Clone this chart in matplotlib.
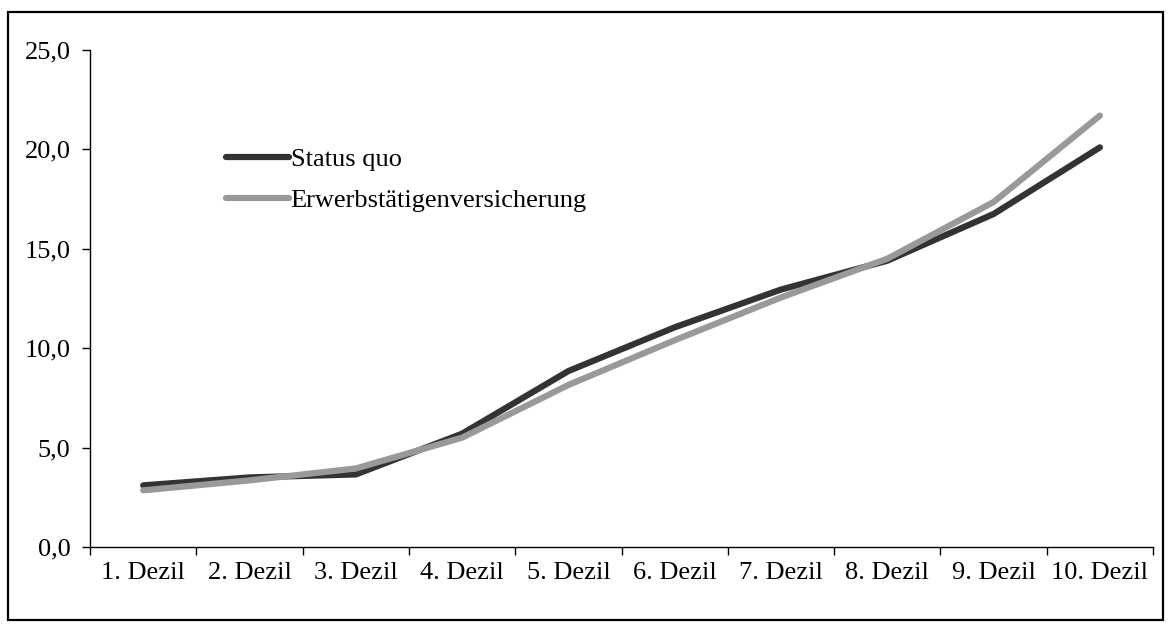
import numpy as np
import matplotlib
matplotlib.use('Agg')
import matplotlib.pyplot as plt
from matplotlib.patches import Rectangle

# Daten
dezile = ['1. Dezil', '2. Dezil', '3. Dezil', '4. Dezil', '5. Dezil',
          '6. Dezil', '7. Dezil', '8. Dezil', '9. Dezil', '10. Dezil']
status_quo = [3.1, 3.5, 3.65, 5.7, 8.85, 11.05, 12.95, 14.4, 16.75, 20.1]
erwerb = [2.85, 3.35, 3.95, 5.5, 8.15, 10.4, 12.55, 14.5, 17.35, 21.7]
y_ticks = [0, 5, 10, 15, 20, 25]

plt.rcParams['font.family'] = ['Liberation Serif', 'DejaVu Serif']
fs = 19

fig = plt.figure(figsize=(11.68, 6.24), dpi=100)
ax = fig.add_axes([0.0771, 0.1234, 0.9101, 0.7965])

x = np.arange(len(dezile)) + 0.5
ax.plot(x, status_quo, color='#333333', lw=4.5, solid_capstyle='round',
        solid_joinstyle='round', label='Status quo')
ax.plot(x, erwerb, color='#999999', lw=4.5, solid_capstyle='round',
        solid_joinstyle='round', label='Erwerbstätigenversicherung')

ax.set_xlim(0, len(dezile))
ax.set_ylim(0, 25)
ax.set_xticks(np.arange(len(dezile) + 1))
ax.set_xticklabels([])
ax.set_xticks(x, minor=True)
ax.set_xticklabels(dezile, minor=True, fontsize=fs)
ax.tick_params(axis='x', which='minor', length=0, pad=11)
ax.tick_params(axis='x', which='major', length=6, width=1, direction='out')
ax.set_yticks(y_ticks)
ax.set_yticklabels([f'{v:.1f}'.replace('.', ',') for v in y_ticks], fontsize=fs)
ax.tick_params(axis='y', length=6, width=1, direction='out', pad=8)

for s in ['top', 'right']:
    ax.spines[s].set_visible(False)
for s in ['left', 'bottom']:
    ax.spines[s].set_linewidth(1)

leg = ax.legend(loc='upper left', bbox_to_anchor=(226 / 1168, 1 - 148 / 624),
                bbox_transform=fig.transFigure, frameon=False, fontsize=fs,
                handlelength=2.4, handletextpad=0.05, labelspacing=0.65,
                borderaxespad=0, borderpad=0)

# Rahmen um die ganze Grafik
fig.add_artist(Rectangle((8 / 1168, 4 / 624), 1155 / 1168, 608 / 624,
                         transform=fig.transFigure, fill=False,
                         edgecolor='black', lw=1.6))

fig.savefig('out.png', dpi=100)
